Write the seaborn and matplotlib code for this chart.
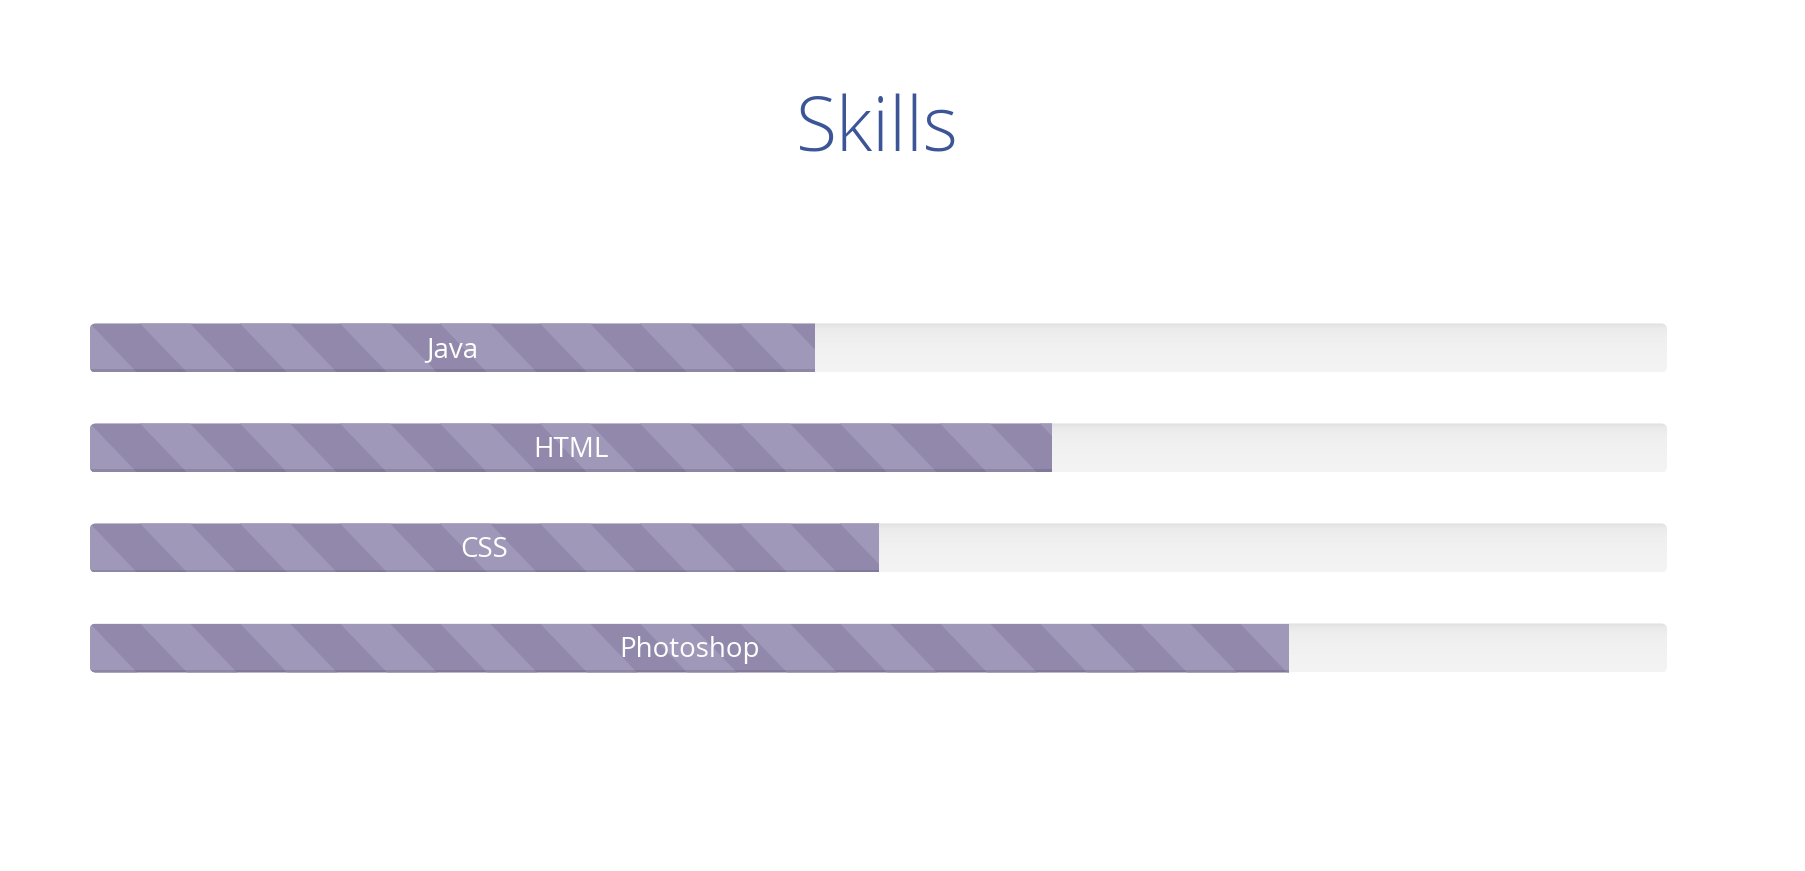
import numpy as np
import pandas as pd
import matplotlib
matplotlib.use("Agg")
import matplotlib.pyplot as plt
import seaborn as sns
from matplotlib.patches import FancyBboxPatch, Rectangle
from matplotlib.collections import PolyCollection
from matplotlib.transforms import Bbox, TransformedBbox

# data
skills = ["Java", "HTML", "CSS", "Photoshop"]
levels = [46, 61, 50, 76]
full = [100, 100, 100, 100]

sns.set_theme(style="white")
plt.rcParams["font.family"] = ["Open Sans", "DejaVu Sans"]

df = pd.DataFrame({"skill": skills, "level": levels, "full": full})

fig = plt.figure(figsize=(18.05, 8.71), dpi=100)
fig.patch.set_facecolor("white")
ax = fig.add_axes([90 / 1805, 1 - 698 / 871, 1577 / 1805, 400 / 871])

bar_h = 0.49
# background tracks, then the filled part
sns.barplot(data=df, x="full", y="skill", orient="h", color="#efefef",
            width=bar_h, saturation=1, linewidth=0, ax=ax)
n_track = len(ax.patches)
sns.barplot(data=df, x="level", y="skill", orient="h", color="#9188ab",
            width=bar_h, saturation=1, linewidth=0, ax=ax)
tracks = list(ax.patches[:n_track])
fills = list(ax.patches[n_track:])

ax.set_xlim(0, 100)
ax.set_ylim(len(skills) - 0.5, -0.5)

# pixel sizes in data units
xu = 100 / 1577
yu = 1 / 100

for i, (tr, fb) in enumerate(zip(tracks, fills)):
    x0, y0 = tr.get_x(), tr.get_y()
    w, h = tr.get_width(), tr.get_height()

    # rounded track shape
    rp = FancyBboxPatch((x0, y0), w, h,
                        boxstyle=f"round,pad=0,rounding_size={6 * xu}",
                        mutation_aspect=yu / xu,
                        facecolor="none", edgecolor="none", zorder=0)
    ax.add_patch(rp)
    tr.set_visible(False)

    # soft vertical gradient with a little inset shadow at the top
    rows = 50
    t = np.linspace(0, 1, rows)
    shade = 0.955 - 0.03 * (1 - t) ** 1.5 - 0.05 * np.exp(-t * 14)
    img = np.repeat(shade[:, None], 3, axis=1)[:, None, :]
    im = ax.imshow(img, extent=(x0, x0 + w, y0 + h, y0), aspect="auto",
                   interpolation="bilinear", zorder=0.5)
    im.set_clip_path(rp)

    # filled part, clipped to the rounded track
    fb.set_clip_path(rp)
    fb.set_edgecolor("none")
    fb.set_linewidth(0)
    fb.set_zorder(1)
    fw = fb.get_width()
    box = TransformedBbox(Bbox([[x0, y0], [x0 + fw, y0 + h]]), ax.transData)

    # diagonal stripes (drawn taller than the bar, then clipped)
    period = 100 * xu
    sw = 50 * xu
    slope = 47 * xu / h
    ext = h
    ya, yb = y0 - ext, y0 + h + ext
    polys = []
    for a in np.arange(50 * xu - 3 * period, fw + 2 * period, period):
        xa = a - slope * ext
        xb = a + slope * (h + ext)
        polys.append([(xa, ya), (xa + sw, ya), (xb + sw, yb), (xb, yb)])
    pc = PolyCollection(polys, facecolor="#a098b9", edgecolor="none", zorder=2)
    ax.add_collection(pc, autolim=False)
    pc.set_clip_path(rp)
    pc.set_clip_box(box)

    # darker bottom edge
    edge = Rectangle((x0, y0 + h - 3 * yu), fw, 3 * yu, facecolor="black",
                     alpha=0.11, edgecolor="none", zorder=3)
    ax.add_patch(edge)
    edge.set_clip_path(rp)
    edge.set_clip_box(box)

    ax.text(x0 + fw / 2, i + 0.09, skills[i], ha="center", va="baseline",
            color="white", fontsize=20, zorder=4)

ax.set_xlim(0, 100)
ax.set_ylim(len(skills) - 0.5, -0.5)
ax.axis("off")

fig.text(877 / 1805, 1 - 151 / 871, "Skills", ha="center", va="baseline",
         fontsize=54, color="#3b5596", fontweight="light")

fig.savefig("out.png", dpi=100)
